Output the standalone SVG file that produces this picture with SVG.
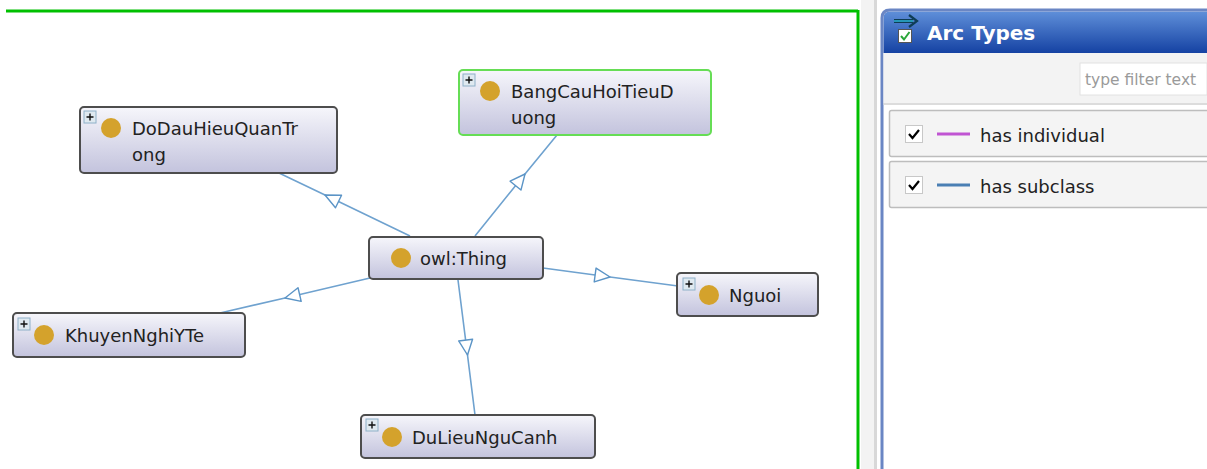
<svg xmlns="http://www.w3.org/2000/svg" width="1207" height="469" viewBox="0 0 1207 469">
<defs>
<linearGradient id="nodeFill" x1="0" y1="0" x2="0" y2="1">
<stop offset="0" stop-color="#f6f6fb"/>
<stop offset="1" stop-color="#c3c3dd"/>
</linearGradient>
<linearGradient id="hdr" x1="0" y1="0" x2="0" y2="1">
<stop offset="0" stop-color="#5f8fd9"/>
<stop offset="1" stop-color="#1542a3"/>
</linearGradient>
<marker id="tri" markerUnits="userSpaceOnUse" viewBox="-17 -9 20 18" refX="0" refY="0" markerWidth="20" markerHeight="18" orient="auto">
<path d="M0,0 L-15,-7 L-15,7 Z" fill="#ffffff" stroke="#5b94c6" stroke-width="1.4" stroke-linejoin="round"/>
</marker>
<g id="plus">
<rect x="0" y="0" width="12" height="12" fill="#dfe9f0" stroke="#8eb0c8" stroke-width="1"/>
<path d="M6,2.5 V9.5 M2.5,6 H9.5" stroke="#111" stroke-width="1.4"/>
</g>
</defs>
<style>
.node{fill:url(#nodeFill);stroke:#4d4d4d;stroke-width:2}
.sel{stroke:#66dd55}
.dot{fill:#d4a22c}
.lbl{font-family:"DejaVu Sans",sans-serif;font-size:18px;fill:#222}
.edge{fill:none;stroke:#6fa2cf;stroke-width:1.6;marker-mid:url(#tri)}
.ui{font-family:"DejaVu Sans",sans-serif}
</style>
<rect x="0" y="0" width="1207" height="469" fill="#ffffff"/>
<!-- canvas border -->
<path d="M6,11 H858 M858,10 V469" stroke="#00c000" stroke-width="3" fill="none"/>
<rect x="861" y="0" width="13" height="469" fill="#f3f3f3"/>
<rect x="874" y="0" width="3" height="469" fill="#d8d8d8"/>
<!-- Arc Types panel -->
<g id="arc-types-panel">
<path d="M882,469 V18 Q882,10 890,10 H1207 V469 Z" fill="#ffffff"/>
<path d="M883.5,53 V18 Q883.5,11.5 890,11.5 H1207 V53 Z" fill="url(#hdr)"/>
<path d="M882,469 V18 Q882,10 890,10 H1207" fill="none" stroke="#6a86c4" stroke-width="3"/>
<rect x="883.5" y="53" width="323.5" height="50" fill="#f3f3f3"/>
<rect x="1080" y="63" width="127" height="32" fill="#ffffff" stroke="#e2e2e2" stroke-width="1"/>
<text x="1085" y="85" class="ui" font-size="15.5" fill="#9a9a9a">type filter text</text>
<line x1="883.5" y1="104" x2="1207" y2="104" stroke="#dcdcdc" stroke-width="2"/>
<path d="M894,21 H913" stroke="#0e3d55" stroke-width="4"/>
<path d="M894,21 H913" stroke="#2fb6d8" stroke-width="1.5"/>
<path d="M909,15 L917,21 L909,27" fill="none" stroke="#0e3d55" stroke-width="2.2"/>
<rect x="898.5" y="29.5" width="13" height="13" fill="#ffffff" stroke="#555" stroke-width="1"/>
<path d="M901,36 L904,39.5 L909.5,32" fill="none" stroke="#2aa63a" stroke-width="2"/>
<text x="927" y="40" class="ui" font-size="20" font-weight="bold" fill="#ffffff">Arc Types</text>
<rect x="889.5" y="110.5" width="330" height="46" rx="2" fill="#f4f4f4" stroke="#bdbdbd" stroke-width="1.5"/>
<rect x="889.5" y="161.5" width="330" height="46" rx="2" fill="#f4f4f4" stroke="#bdbdbd" stroke-width="1.5"/>
<rect x="905.5" y="125.5" width="17" height="17" fill="#ffffff" stroke="#c8c8c8" stroke-width="1"/>
<path d="M909,134 L912.5,138 L919,130" fill="none" stroke="#000" stroke-width="2.2"/>
<rect x="905.5" y="176.5" width="17" height="17" fill="#ffffff" stroke="#c8c8c8" stroke-width="1"/>
<path d="M909,185 L912.5,189 L919,181" fill="none" stroke="#000" stroke-width="2.2"/>
<line x1="937" y1="134" x2="970" y2="134" stroke="#c054d2" stroke-width="3"/>
<line x1="937" y1="185" x2="970" y2="185" stroke="#4a7fb3" stroke-width="3"/>
<text x="980" y="142" class="ui" font-size="18" fill="#222">has individual</text>
<text x="980" y="193" class="ui" font-size="18" fill="#222">has subclass</text>
</g>
<!-- connectors -->
<g id="connectors">
<path class="edge" d="M410,236 L325,195 L279,173"/>
<path class="edge" d="M475,236 L525,174 L557,135"/>
<path class="edge" d="M543,268 L610,277 L678,286"/>
<path class="edge" d="M370,278 L285,298 L220,313"/>
<path class="edge" d="M458,280 L467.5,355 L475,415"/>
</g>
<!-- nodes -->
<g id="node-DoDauHieuQuanTrong">
<rect class="node" x="80" y="107" width="257" height="66" rx="4"/>
<use href="#plus" x="84" y="111"/>
<circle class="dot" cx="111" cy="128" r="10"/>
<text class="lbl" x="132" y="135">DoDauHieuQuanTr</text>
<text class="lbl" x="132" y="161">ong</text>
</g>
<g id="node-BangCauHoiTieuDuong">
<rect class="node sel" x="459" y="70" width="252" height="65" rx="4"/>
<use href="#plus" x="463" y="74"/>
<circle class="dot" cx="490" cy="91" r="10"/>
<text class="lbl" x="511" y="98">BangCauHoiTieuD</text>
<text class="lbl" x="511" y="124">uong</text>
</g>
<g id="node-owlThing">
<rect class="node" x="369" y="237" width="174" height="42" rx="4"/>
<circle class="dot" cx="401" cy="258" r="10"/>
<text class="lbl" x="420" y="265">owl:Thing</text>
</g>
<g id="node-Nguoi">
<rect class="node" x="677" y="273" width="141" height="43" rx="4"/>
<use href="#plus" x="683" y="278"/>
<circle class="dot" cx="709" cy="295" r="10"/>
<text class="lbl" x="729" y="302">Nguoi</text>
</g>
<g id="node-KhuyenNghiYTe">
<rect class="node" x="13" y="313" width="232" height="44" rx="4"/>
<use href="#plus" x="18" y="318"/>
<circle class="dot" cx="44" cy="335" r="10"/>
<text class="lbl" x="65" y="342">KhuyenNghiYTe</text>
</g>
<g id="node-DuLieuNguCanh">
<rect class="node" x="361" y="415" width="234" height="43" rx="4"/>
<use href="#plus" x="366" y="419"/>
<circle class="dot" cx="392" cy="437" r="10"/>
<text class="lbl" x="412" y="444">DuLieuNguCanh</text>
</g>
</svg>
